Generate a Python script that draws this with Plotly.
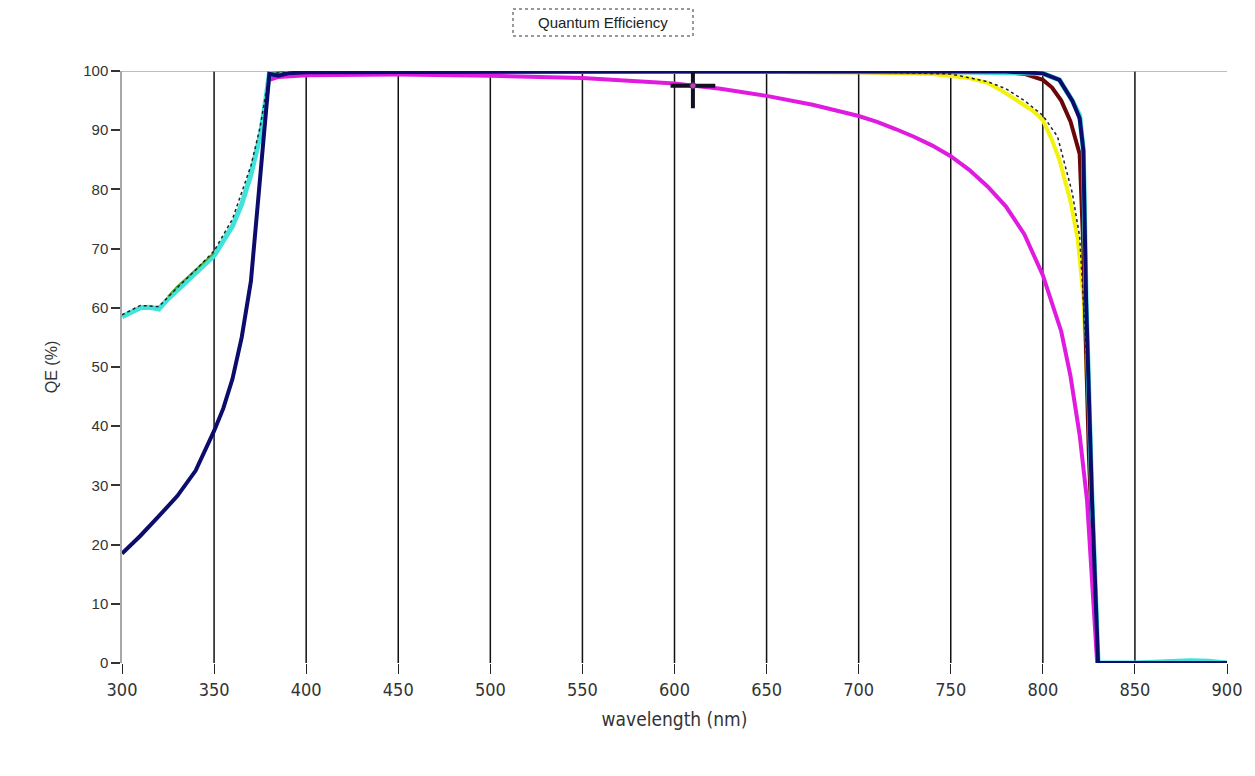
import plotly.graph_objects as go

# ---------------- data ----------------
cyan_wl = [300, 305, 310, 315, 320, 325, 330, 340, 350, 360, 365, 370, 375, 378, 380, 385, 390, 400,
           450, 500, 550, 600, 650, 700, 750, 800, 809, 816, 820, 822, 823.5, 826.7, 830, 850, 870, 880, 890, 900]
cyan_qe = [58.5, 59.2, 60.0, 60.1, 59.8, 61.5, 63.0, 65.8, 68.8, 73.8, 77.5, 82.5, 89.0, 95.0, 99.5, 99.3, 99.6, 99.8,
           99.9, 99.9, 99.9, 99.9, 99.9, 99.9, 99.9, 99.6, 98.5, 95.0, 92.5, 86.6, 61.0, 27.5, 0.0, 0.0, 0.3, 0.4, 0.3, 0.0]

green_wl = [325, 330, 335, 340, 345, 350]
green_qe = [61.9, 63.6, 65.0, 66.4, 67.8, 69.3]

dotted_wl = [300, 310, 320, 330, 340, 350, 360, 370, 375, 380, 400, 500, 600, 700, 750, 760, 770, 780, 790,
             800, 808, 816, 820, 825, 830]
dotted_qe = [58.8, 60.4, 60.2, 63.4, 66.4, 69.6, 75.0, 84.0, 90.5, 99.6, 99.9, 99.9, 99.9, 99.9, 99.5, 98.9, 98.2, 97.0,
             95.0, 92.5, 88.9, 79.4, 72.0, 45.0, 0.0]

navy_wl = [300, 310, 320, 330, 340, 350, 355, 360, 365, 370, 375, 380, 385, 390, 400, 500, 600, 700, 780,
           800, 809, 816, 820, 822, 823.5, 826.7, 830, 850, 900]
navy_qe = [18.5, 21.5, 24.8, 28.2, 32.5, 39.2, 43.0, 48.0, 55.0, 64.5, 82.0, 99.5, 99.2, 99.6, 99.8, 99.9, 99.9, 99.9, 99.9,
           99.6, 98.5, 95.0, 92.0, 86.6, 61.0, 27.5, 0.0, 0.0, 0.0]

maroon_wl = [380, 400, 500, 600, 700, 780, 790, 800, 805, 810, 815, 818, 820, 822, 825, 828, 830, 900]
maroon_qe = [99.5, 99.8, 99.9, 99.9, 99.9, 99.8, 99.5, 98.5, 97.2, 95.0, 91.5, 88.5, 86.0, 70.0, 35.0, 12.0, 0.0, 0.0]

yellow_wl = [380, 400, 500, 600, 700, 740, 750, 760, 770, 777, 788, 795, 800, 805, 809, 812, 815, 819, 822, 825, 828, 830]
yellow_qe = [99.5, 99.8, 99.9, 99.9, 99.8, 99.5, 99.2, 98.8, 98.0, 96.8, 94.6, 93.2, 91.7, 88.3, 85.0, 81.5, 78.0, 71.5,
             62.0, 40.0, 15.0, 0.0]

magenta_wl = [380, 385, 400, 450, 500, 550, 600, 625, 650, 675, 700, 710, 720, 730, 740, 750, 760, 770, 780, 790,
              800, 805, 810, 815, 820, 824, 827, 829.5, 830]
magenta_qe = [98.5, 99.0, 99.3, 99.4, 99.2, 98.8, 97.9, 97.0, 95.8, 94.3, 92.4, 91.4, 90.2, 88.9, 87.4, 85.6, 83.3, 80.5,
              77.1, 72.4, 65.5, 61.0, 56.0, 48.5, 38.5, 27.5, 11.0, 0.0, 0.0]

cursor_wl = [610]
cursor_qe = [97.5]

x_ticks = [300, 350, 400, 450, 500, 550, 600, 650, 700, 750, 800, 850, 900]
grid_wl = [350, 400, 450, 500, 550, 600, 650, 700, 750, 800, 850]
y_ticks = [0, 10, 20, 30, 40, 50, 60, 70, 80, 90, 100]

# ---------------- figure ----------------
fig = go.Figure()


def add_line(x, y, color, width, dash="solid"):
    fig.add_trace(go.Scatter(x=x, y=y, mode="lines", line=dict(color=color, width=width, dash=dash, shape="linear"),
                             showlegend=False, hoverinfo="skip"))


add_line(yellow_wl, yellow_qe, "#f2f20c", 4)
add_line(maroon_wl, maroon_qe, "#6a0808", 4)
add_line(cyan_wl, cyan_qe, "#3fe3da", 5)
add_line(green_wl, green_qe, "#4caa3a", 2)
add_line(dotted_wl, dotted_qe, "#222222", 1.5, "dot")
add_line(magenta_wl, magenta_qe, "#e01be0", 4)
add_line(navy_wl, navy_qe, "#0c0c6c", 4)

# cursor crosshair
fig.add_trace(go.Scatter(x=cursor_wl, y=cursor_qe, mode="markers",
                         marker=dict(symbol="cross-thin", size=32, line=dict(color="#111122", width=4)),
                         showlegend=False, hoverinfo="skip"))
fig.add_trace(go.Scatter(x=cursor_wl, y=cursor_qe, mode="markers",
                         marker=dict(symbol="circle", size=6, color="#c040c0", line=dict(color="#552255", width=1)),
                         showlegend=False, hoverinfo="skip"))

L, R, T, B = 122, 28, 71, 113
W, H = 1255, 776
plot_w = W - L - R
plot_h = H - T - B


def px_to_paper_x(px):
    return (px - L) / plot_w


def px_to_paper_y(py):
    return (H - B - py) / plot_h


shapes = []
for g in grid_wl:
    shapes.append(dict(type="line", xref="x", yref="y", x0=g, x1=g, y0=0, y1=100,
                       line=dict(color="#111111", width=1.5), layer="below"))
shapes.append(dict(type="line", xref="x", yref="y", x0=300, x1=900, y0=100, y1=100,
                   line=dict(color="#a8a8a8", width=1.5), layer="below"))
shapes.append(dict(type="rect", xref="paper", yref="paper",
                   x0=px_to_paper_x(513), x1=px_to_paper_x(693),
                   y0=px_to_paper_y(36), y1=px_to_paper_y(9),
                   line=dict(color="#333333", width=1, dash="dot")))

narrow = "DejaVu Sans Condensed, Liberation Sans Narrow, Arial Narrow, sans-serif"

fig.update_layout(
    width=W, height=H,
    margin=dict(l=L, r=R, t=T, b=B),
    paper_bgcolor="white", plot_bgcolor="white",
    shapes=shapes,
    font=dict(family="Liberation Sans, Arial, sans-serif", color="#333333"),
    annotations=[dict(text="Quantum Efficiency", xref="paper", yref="paper",
                      x=px_to_paper_x(603), y=px_to_paper_y(22), xanchor="center", yanchor="middle",
                      showarrow=False, font=dict(size=15, color="#222222"))],
)

fig.update_xaxes(range=[300, 900], tickvals=x_ticks, ticktext=[str(v) for v in x_ticks],
                 ticks="outside", ticklen=10, tickwidth=1, tickcolor="#222222",
                 showgrid=False, zeroline=False, showline=False,
                 tickfont=dict(family=narrow, size=18, color="#333333"),
                 title=dict(text="wavelength (nm)", standoff=14,
                            font=dict(family=narrow, size=19, color="#333333")))
fig.update_yaxes(range=[0, 100], tickvals=y_ticks, ticks="outside", ticklen=9, tickwidth=1.5,
                 tickcolor="#333333", showgrid=False, zeroline=False,
                 showline=True, linecolor="#a8a8a8", linewidth=1.5,
                 tickfont=dict(size=15, color="#333333"),
                 title=dict(text="QE (%)", standoff=22, font=dict(size=16, color="#333333")))

fig.write_html("out.html")
